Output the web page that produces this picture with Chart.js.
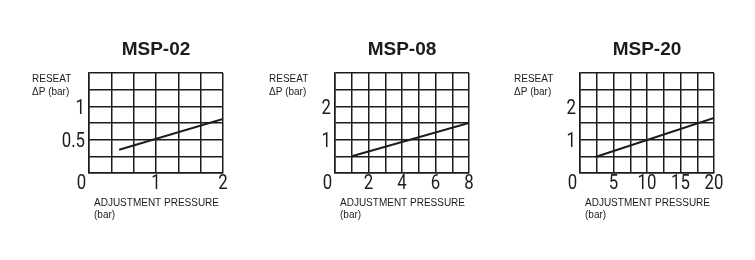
<!DOCTYPE html>
<html>
<head>
<meta charset="utf-8">
<script src="https://cdn.jsdelivr.net/npm/chart.js@4"></script>
<style>
  html, body { margin: 0; padding: 0; background: #fff; }
  body { width: 755px; height: 260px; position: relative; overflow: hidden; }
  .box { position: absolute; top: 0; height: 260px; }
</style>
</head>
<body>
<div class="box" style="left:0;width:250px"><canvas id="c02"></canvas></div>
<div class="box" style="left:250px;width:250px"><canvas id="c08"></canvas></div>
<div class="box" style="left:500px;width:255px"><canvas id="c20"></canvas></div>
<script>
// Data
const titles = ["MSP-02", "MSP-08", "MSP-20"];

const adjust02 = [0.45, 2];
const reseat02 = [0.35, 0.81];
const adjust08 = [1, 8];
const reseat08 = [0.5, 1.5];
const adjust20 = [2.3, 20];
const reseat20 = [0.48, 1.65];

// grid lines and the labels shown on them
const xGrid02 = [0, 1 / 3, 2 / 3, 1, 4 / 3, 5 / 3, 2];
const yGrid02 = [0, 0.25, 0.5, 0.75, 1, 1.25, 1.5];
const xLabels02 = [1, 2];
const yLabels02 = [0.5, 1];

const xGrid08 = [0, 1, 2, 3, 4, 5, 6, 7, 8];
const yGrid08 = [0, 0.5, 1, 1.5, 2, 2.5, 3];
const xLabels08 = [2, 4, 6, 8];
const yLabels08 = [1, 2];

const xGrid20 = [0, 2.5, 5, 7.5, 10, 12.5, 15, 17.5, 20];
const yGrid20 = [0, 0.5, 1, 1.5, 2, 2.5, 3];
const xLabels20 = [5, 10, 15, 20];
const yLabels20 = [1, 2];

const INK = "#1c1c1c";
const tickFont = "21px Roboto, 'Liberation Sans', sans-serif";
const smallFont = "10px 'Liberation Sans', sans-serif";
const SQUEEZE = 0.8; // the original digits are a narrow DIN face

// narrow text: squeeze horizontally around the anchor point
function narrowText(ctx, text, x, y, align) {
  ctx.save();
  ctx.translate(x, y);
  ctx.scale(SQUEEZE, 1);
  ctx.textAlign = align;
  ctx.fillText(text, 0, 0);
  ctx.restore();
}

// tick labels, axis captions and the shared "0" in the corner
const captions = {
  id: "captions",
  afterDraw(chart, args, opts) {
    const { ctx, chartArea, scales } = chart;
    ctx.save();
    ctx.fillStyle = INK;

    ctx.font = smallFont;
    ctx.textBaseline = "middle";
    ctx.textAlign = "left";
    ctx.fillText("RESEAT", chartArea.left + opts.yTitleDx, 79);
    ctx.fillText("\u0394P (bar)", chartArea.left + opts.yTitleDx, 92);
    ctx.fillText("ADJUSTMENT PRESSURE", chartArea.left + 5, 203);
    ctx.fillText("(bar)", chartArea.left + 5, 215);

    ctx.font = tickFont;
    ctx.textBaseline = "alphabetic";
    const xBase = chartArea.bottom + 15.5;
    opts.xLabels.forEach(v => {
      narrowText(ctx, String(v), scales.x.getPixelForValue(v), xBase, "center");
    });
    opts.yLabels.forEach(v => {
      narrowText(ctx, String(v), chartArea.left - 4, scales.y.getPixelForValue(v) + 7.5, "right");
    });
    narrowText(ctx, "0", chartArea.left - 7.5, xBase, "center");
    ctx.restore();
  }
};

function makeChart(id, title, xs, ys, xGrid, yGrid, xLabels, yLabels, pad, yTitleDx) {
  new Chart(document.getElementById(id), {
    type: "scatter",
    data: {
      datasets: [{
        data: xs.map((x, i) => ({ x: x, y: ys[i] })),
        showLine: true,
        borderColor: INK,
        borderWidth: 2,
        pointRadius: 0,
        fill: false
      }]
    },
    options: {
      responsive: true,
      maintainAspectRatio: false,
      animation: false,
      layout: { padding: pad },
      plugins: {
        legend: { display: false },
        tooltip: { enabled: false },
        title: {
          display: true,
          text: title,
          fullSize: false,
          color: INK,
          font: { family: "'Liberation Sans'", size: 19, weight: "bold" },
          padding: { top: 38, bottom: 12.2 }
        },
        captions: { yTitleDx: yTitleDx, xLabels: xLabels, yLabels: yLabels }
      },
      scales: {
        x: {
          type: "linear",
          min: xGrid[0],
          max: xGrid[xGrid.length - 1],
          afterBuildTicks: axis => { axis.ticks = xGrid.map(v => ({ value: v })); },
          afterFit: axis => { axis.height = 50; },
          grid: { color: INK, lineWidth: 1.5, drawTicks: false },
          border: { color: INK, width: 1.5 },
          ticks: { display: false }
        },
        y: {
          type: "linear",
          min: yGrid[0],
          max: yGrid[yGrid.length - 1],
          afterBuildTicks: axis => { axis.ticks = yGrid.map(v => ({ value: v })); },
          afterFit: axis => { axis.width = 40; },
          grid: { color: INK, lineWidth: 1.5, drawTicks: false },
          border: { color: INK, width: 1.5 },
          ticks: { display: false }
        }
      }
    },
    plugins: [captions]
  });
}

makeChart("c02", titles[0], adjust02, reseat02, xGrid02, yGrid02, xLabels02, yLabels02,
  { left: 49, right: 27, top: 0, bottom: 37 }, -57);
makeChart("c08", titles[1], adjust08, reseat08, xGrid08, yGrid08, xLabels08, yLabels08,
  { left: 45, right: 31, top: 0, bottom: 37 }, -66);
makeChart("c20", titles[2], adjust20, reseat20, xGrid20, yGrid20, xLabels20, yLabels20,
  { left: 40, right: 41, top: 0, bottom: 37 }, -66);
</script>
</body>
</html>
